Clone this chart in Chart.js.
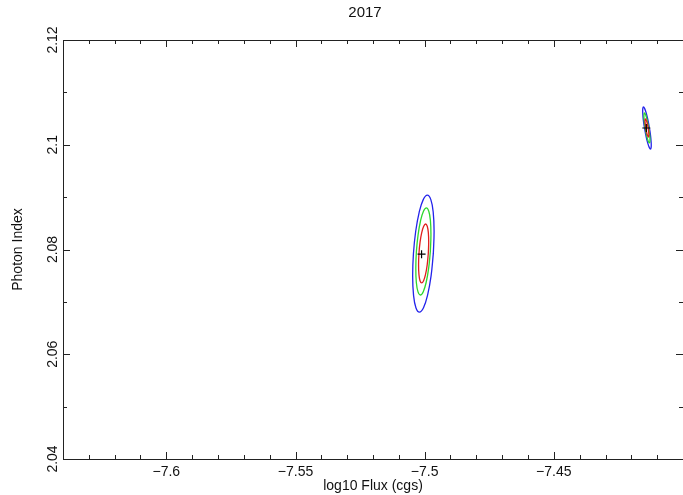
<!DOCTYPE html>
<html>
<head>
<meta charset="utf-8">
<script src="https://cdn.jsdelivr.net/npm/chart.js@4"></script>
<style>
  html, body { margin: 0; padding: 0; background: #fff; overflow: hidden; }
</style>
</head>
<body>
<canvas id="contours" width="683" height="495"></canvas>
<script>
const chartTitle = '2017'

// axis ranges and tick marks
const xMin = -7.64, xMax = -7.40
const yMin = 2.04, yMax = 2.12
const xTicks = [-7.6, -7.55, -7.5, -7.45]
const xTickLabels = ['−7.6', '−7.55', '−7.5', '−7.45']
const xMinorTicks = [-7.63, -7.62, -7.61, -7.59, -7.58, -7.57, -7.56, -7.54, -7.53, -7.52, -7.51,
  -7.49, -7.48, -7.47, -7.46, -7.44, -7.43, -7.42, -7.41]
const yTicks = [2.04, 2.06, 2.08, 2.1, 2.12]
const yTickLabels = ['2.04', '2.06', '2.08', '2.1', '2.12']
const yMinorTicks = [2.05, 2.07, 2.09, 2.11]

// best fit positions [log10 flux, photon index]
const bestFit = [[-7.5012, 2.0791], [-7.4142, 2.1032]]

// confidence contours, [log10 flux, photon index]
const outerA = [[-7.49665,2.0792],[-7.49635,2.08348],[-7.49669,2.0871],[-7.49761,2.08952],[-7.49896,2.09037],
  [-7.50055,2.08952],[-7.50213,2.0871],[-7.50347,2.08348],[-7.50435,2.0792],[-7.50465,2.07492],[-7.50431,2.0713],
  [-7.50339,2.06888],[-7.50204,2.06803],[-7.50045,2.06888],[-7.49887,2.0713],[-7.49753,2.07492],[-7.49665,2.0792]]
const middleA = [[-7.4978,2.07962],[-7.49757,2.0828],[-7.49777,2.08549],[-7.4984,2.08729],[-7.49934,2.08793],
  [-7.50046,2.08729],[-7.50159,2.08549],[-7.50255,2.0828],[-7.5032,2.07962],[-7.50343,2.07644],[-7.50323,2.07375],
  [-7.5026,2.07195],[-7.50166,2.07131],[-7.50054,2.07195],[-7.49941,2.07375],[-7.49845,2.07644],[-7.4978,2.07962]]
const innerA = [[-7.49859,2.07924],[-7.49844,2.0814],[-7.49858,2.08322],[-7.499,2.08444],[-7.49963,2.08487],
  [-7.50038,2.08444],[-7.50114,2.08322],[-7.50178,2.0814],[-7.50221,2.07924],[-7.50236,2.07708],[-7.50222,2.07526],
  [-7.5018,2.07404],[-7.50117,2.07361],[-7.50042,2.07404],[-7.49966,2.07526],[-7.49902,2.07708],[-7.49859,2.07924]]
const outerB = [[-7.41299,2.1032],[-7.41358,2.10474],[-7.41422,2.10604],[-7.41483,2.1069],[-7.4153,2.10721],
  [-7.41557,2.1069],[-7.41558,2.10604],[-7.41536,2.10474],[-7.41491,2.1032],[-7.41432,2.10166],[-7.41368,2.10036],
  [-7.41307,2.0995],[-7.4126,2.09919],[-7.41233,2.0995],[-7.41232,2.10036],[-7.41254,2.10166],[-7.41299,2.1032]]
const middleB = [[-7.41326,2.1032],[-7.41414,2.10522],[-7.41491,2.10606],[-7.41512,2.10522],[-7.41464,2.1032],
  [-7.41376,2.10118],[-7.41299,2.10034],[-7.41278,2.10118],[-7.41326,2.1032]]
const innerB = [[-7.41349,2.1032],[-7.41403,2.10442],[-7.41453,2.10492],[-7.41469,2.10442],[-7.41441,2.1032],
  [-7.41387,2.10198],[-7.41337,2.10148],[-7.41321,2.10198],[-7.41349,2.1032]]

const BLUE = 'rgb(35,35,235)', GREEN = 'rgb(45,215,45)', RED = 'rgb(225,30,30)'
const FONT = '"Liberation Sans", Arial, sans-serif'

function contour(points, color, order) {
  return {
    data: points.map(p => ({x: p[0], y: p[1]})),
    showLine: true,
    borderColor: color,
    borderWidth: 1.3,
    pointRadius: 0,
    tension: 0.4,
    fill: false,
    order: order
  }
}

// frame with inward ticks on all four sides, plus the title
const frameTicks = {
  id: 'frameTicks',
  afterDatasetsDraw(chart) {
    const {ctx, chartArea: a, scales: {x, y}} = chart
    ctx.save()
    ctx.strokeStyle = '#222'
    ctx.lineWidth = 1
    ctx.strokeRect(a.left + 0.5, a.top + 0.5, a.right - a.left, a.bottom - a.top)
    ctx.beginPath()
    const xt = (vals, len) => vals.forEach(v => {
      const px = Math.round(x.getPixelForValue(v)) + 0.5
      ctx.moveTo(px, a.bottom); ctx.lineTo(px, a.bottom - len)
      ctx.moveTo(px, a.top); ctx.lineTo(px, a.top + len)
    })
    const yt = (vals, len) => vals.forEach(v => {
      const py = Math.round(y.getPixelForValue(v)) + 0.5
      ctx.moveTo(a.left, py); ctx.lineTo(a.left + len, py)
      ctx.moveTo(a.right, py); ctx.lineTo(a.right - len, py)
    })
    xt(xTicks, 7); xt(xMinorTicks, 4)
    yt(yTicks, 7); yt(yMinorTicks, 4)
    ctx.stroke()

    ctx.fillStyle = '#111'
    ctx.font = '15px ' + FONT
    ctx.textAlign = 'center'
    ctx.textBaseline = 'middle'
    ctx.fillText(chartTitle, 365, 13)
    ctx.restore()
  }
}

const ctx = document.getElementById('contours').getContext('2d')

new Chart(ctx, {
  type: 'scatter',
  data: {
    datasets: [
      contour(outerA, BLUE, 5), contour(middleA, GREEN, 4), contour(innerA, RED, 3),
      contour(outerB, BLUE, 5), contour(middleB, GREEN, 4), contour(innerB, RED, 3),
      {
        data: bestFit.map(p => ({x: p[0], y: p[1]})),
        pointStyle: 'cross',
        pointRadius: 4,
        borderColor: '#000',
        borderWidth: 1.2,
        order: 0
      }
    ]
  },
  options: {
    responsive: false,
    animation: false,
    events: [],
    // right edge of the plot frame sits just outside the canvas, as in the original
    layout: { autoPadding: false, padding: { top: 40, right: -3, left: 0, bottom: 0 } },
    plugins: { legend: { display: false }, tooltip: { enabled: false }, title: { display: false } },
    scales: {
      x: {
        type: 'linear', min: xMin, max: xMax,
        afterBuildTicks: s => { s.ticks = xTicks.map(v => ({value: v})) },
        afterFit: s => { s.height = 36 },
        grid: { display: false }, border: { display: false },
        ticks: {
          autoSkip: false, maxRotation: 0, padding: -3, color: '#111',
          font: { family: FONT, size: 14 },
          callback: (v, i) => xTickLabels[i]
        },
        title: { display: true, text: 'log10 Flux (cgs)', color: '#111',
          font: { family: FONT, size: 14 }, padding: { top: 0, bottom: 0 } }
      },
      y: {
        type: 'linear', min: yMin, max: yMax,
        afterBuildTicks: s => { s.ticks = yTicks.map(v => ({value: v})) },
        afterFit: s => { s.width = 63 },
        grid: { display: false }, border: { display: false },
        ticks: {
          autoSkip: false, minRotation: 90, maxRotation: 90, crossAlign: 'center', padding: -12,
          color: '#111', font: { family: FONT, size: 14 },
          callback: (v, i) => yTickLabels[i]
        },
        title: { display: true, text: 'Photon Index', color: '#111',
          font: { family: FONT, size: 14 }, padding: { top: 10, bottom: 0 } }
      }
    }
  },
  plugins: [frameTicks]
})
</script>
</body>
</html>
